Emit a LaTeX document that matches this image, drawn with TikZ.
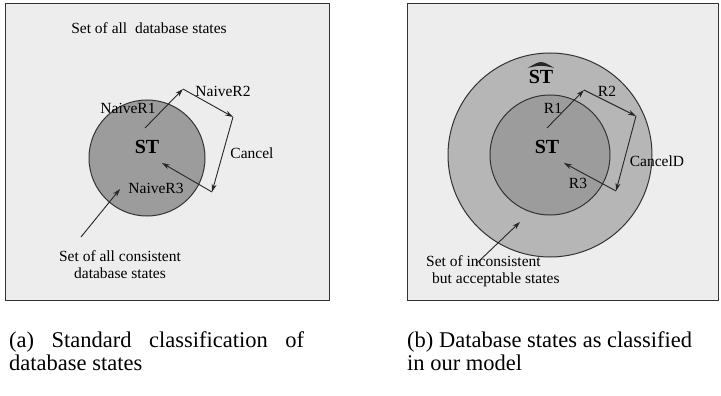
\documentclass[tikz,border=0pt]{standalone}
\usepackage{fontspec}
\setmainfont{Liberation Serif}
\usetikzlibrary{arrows.meta}
\definecolor{boxbg}{HTML}{EDEDED}
\definecolor{innerfill}{HTML}{9C9C9C}
\definecolor{outerfill}{HTML}{B6B6B6}
\definecolor{linecol}{HTML}{333333}
\tikzset{
  panel/.style={draw=linecol, line width=1.2pt, fill=boxbg},
  region/.style={circle, draw=linecol, line width=1pt, inner sep=0pt},
  trans/.style={draw=black!85, line width=0.9pt, -{Stealth[length=8pt,width=5pt]}},
  lbl/.style={inner sep=0pt, font=\fontsize{15.5}{17}\selectfont},
  stlbl/.style={inner sep=0pt, font=\fontsize{20}{22}\selectfont\bfseries},
  captext/.style={inner sep=0pt, anchor=north west, font=\fontsize{22.5}{23}\selectfont}
}
\begin{document}
\begin{tikzpicture}[x=1pt,y=-1pt]
\useasboundingbox (0,0) rectangle (721,396);
\fill[white] (0,0) rectangle (721,396);
% panels
\node[panel, minimum width=324pt, minimum height=297pt, anchor=north west] (pa) at (5,3) {};
\node[panel, minimum width=311pt, minimum height=297pt, anchor=north west] (pb) at (407,3) {};
% left panel
\node[region, fill=innerfill, minimum size=116pt] (st1) at (147,158) {};
\node[lbl] (tall) at (149,28) {Set of all\ \ database states};
\node[stlbl] (stA) at (147,147) {ST};
\coordinate (a0) at (145,128);
\coordinate (a1) at (183,89);
\coordinate (a2) at (233,117);
\coordinate (a3) at (212,192);
\coordinate (a4) at (162,163);
\draw[trans] (a0) -- (a1);
\draw[trans] (a1) -- (a2);
\draw[trans] (a2) -- (a3);
\draw[trans] (a3) -- (a4);
\node[lbl] (n1) at (128,108) {NaiveR1};
\node[lbl] (n2) at (223,91) {NaiveR2};
\node[lbl] (nc) at (252,153) {Cancel};
\node[lbl] (n3) at (156,188) {NaiveR3};
\node[lbl, align=center] (tcons) at (120,265) {Set of all consistent\\database states};
\coordinate (p0) at (81,237);
\coordinate (p1) at (120,189);
\draw[trans] (p0) -- (p1);
% right panel
\node[region, fill=outerfill, minimum size=204pt] (sth) at (550,155) {};
\node[region, fill=innerfill, minimum size=120pt] (st2) at (550,155) {};
\node[stlbl] (hatA) at (541,77) {ST};
\coordinate (h0) at ([xshift=-1pt,yshift=2pt]hatA.north west);
\coordinate (h1) at ([xshift=1pt,yshift=2pt]hatA.north east);
\fill[black!85] (h0) .. controls ([yshift=10pt]hatA.north) .. (h1)
  -- ([xshift=-1.5pt,yshift=0.5pt]h1) .. controls ([yshift=5pt]hatA.north) .. ([xshift=1.5pt,yshift=0.5pt]h0) -- cycle;
\node[stlbl] (stB) at (547,147) {ST};
\coordinate (b0) at (547,128);
\coordinate (b1) at (584,90);
\coordinate (b2) at (636,116);
\coordinate (b3) at (616,191);
\coordinate (b4) at (564,163);
\draw[trans] (b0) -- (b1);
\draw[trans] (b1) -- (b2);
\draw[trans] (b2) -- (b3);
\draw[trans] (b3) -- (b4);
\node[lbl] (r1) at (553,108) {R1};
\node[lbl] (r2) at (607,91) {R2};
\node[lbl] (rc) at (657,161) {CancelD};
\node[lbl] (r3) at (578,183) {R3};
\node[lbl, align=left, anchor=west] (tinc) at (426,271) {Set of inconsistent\\\hspace*{6pt}but acceptable states};
\coordinate (q0) at (477,263);
\coordinate (q1) at (520,222);
\draw[trans] (q0) -- (q1);
% captions
\node[captext, text width=295pt, align=justify] (capa) at (9,331) {(a) Standard classification of\linebreak database states};
\node[captext, align=left] (capb) at (407,331) {(b) Database states as classified\\in our model};
\end{tikzpicture}
\end{document}
